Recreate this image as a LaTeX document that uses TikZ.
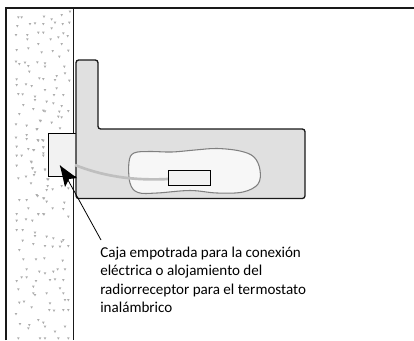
\documentclass[tikz,border=0pt]{standalone}
\usepackage{fontspec}
\setmainfont{Carlito}
\tikzset{
  px/.style={x=0.75pt,y=-0.75pt},
  outline/.style={draw=black!90,line width=0.85pt},
  speck/.style={fill=black!32,draw=none},
  lead/.style={draw=black,line width=0.6pt}
}
\newcommand{\speckat}[2]{\fill[speck] (#1-1.3,#2-1) -- (#1+1.3,#2-1) -- (#1,#2+1.4) -- cycle;}
\begin{document}
\begin{tikzpicture}[px]
\useasboundingbox (0,0) rectangle (414,340);
% wall
\draw[outline] (6,340) -- (6,8) -- (414,8);
\draw[outline] (73.5,8) -- (73.5,340);
% specks, top part
\foreach \a/\b in {65/52,55/52,52/78,90/72,105/70,130/72,132/50,155/58,165/68,185/45,210/35,188/72,208/68,155/85,115/98,130/98,48/105,82/105,82/118,115/132,152/118,175/112,190/100,203/108,50/150,85/145,125/157,158/153,178/170,205/152,185/132,48/185,58/192,75/188,85/198,112/187,135/190,135/200,193/200,88/215,195/220,50/238,118/235,130/237,170/228,165/240,208/242,50/255,78/253,95/258,170/265,55/282,68/283,105/290,105/300,135/270,162/285,190/285,140/305,160/310,185/318,70/315,100/327,130/332,178/335,205/333,58/342}
  {\speckat{\a/3}{\b/3}}
% specks, bottom part
\foreach \a/\b in {50/30,68/30,105/38,105/48,140/50,160/55,190/60,68/62,185/65,100/72,135/78,158/80,180/80,205/78,58/90,70/118,108/118,133/115,188/122,80/148,118/155,135/160,160/155,173/148,195/148,50/183,65/172,80/172,108/183,150/180,165/178,190/180,100/200,55/208,180/205,100/220,105/225,140/220,190/220,58/248,72/245,95/262,150/250,195/240,48/282,148/270,162/272,190/270,205/270,205/240,115/300,130/308,60/312,88/315,195/320,85/325,135/320,165/335,55/355,120/355,135/355,175/355,205/355}
  {\speckat{\a/3}{220+\b/3}}
% specks, middle right
\foreach \a/\b in {45/4,85/20,95/22,30/32,65/38,90/55,20/58,25/92,40/92,40/112,12/120,40/130,3/155,8/175,12/195,45/180,55/208,68/238,50/240,95/228,115/235,20/255,42/265,50/275,103/278,68/295,100/297,25/313,42/313,115/320}
  {\speckat{30+\a/3}{110+\b/3}}
% specks, middle left
\foreach \a/\b in {48/28,80/32,112/42,122/18,48/68,80/60,80/72,113/75,127/75,50/95,85/102,100/105,130/97,50/122,65/122,130/122,50/152,95/142,97/160,105/172,135/163,55/190,78/185,93/205,142/193,143/213,58/255,80/255,85/280,113/243,130/250,50/297,115/297,130/297,50/317,78/313,97/317}
  {\speckat{\a/3}{115+\b/3}}
% wall box
\node[draw=black,line width=0.85pt,fill=black!5,minimum width=26pt,minimum height=32pt,inner sep=0pt,anchor=north west] (box) at (48,133) {};
% L-shaped body
\draw[draw=black!90,line width=1pt,fill=black!12,rounded corners=2pt]
  (76,60) -- (98,60) -- (98,129) -- (305,129) -- (305,198.5) -- (76,198.5) -- cycle;
% patch
\draw[draw=black!50,line width=0.8pt,fill=black!3]
  plot[smooth cycle,tension=0.6] coordinates {(129,162) (134,153) (150,151.5) (172,152) (195,150) (217,148.5) (240,151) (254,157) (260,170) (258,184) (243,192) (217,193) (190,190.5) (157,193) (138,192.5) (130,183)};
% cable
\draw[draw=black!25,line width=2pt] (75,165) .. controls (100,175) and (130,181) .. (168,179);
% receiver
\node[draw=black,line width=0.85pt,fill=black!5,minimum width=32pt,minimum height=11.5pt,inner sep=0pt,anchor=north west] (rx) at (167.5,170) {};
% label
\node[anchor=north west,align=left,font=\fontsize{11.3pt}{13.6pt}\selectfont,inner sep=0pt] (lab) at (100,247)
 {Caja empotrada para la conexión\\eléctrica o alojamiento del\\radiorreceptor para el termostato\\inalámbrico};
\coordinate (tip) at (60,165.5);
\coordinate (foot) at (101,240);
\draw[lead] (foot) -- (tip);
\fill[black] (tip) -- (77,178) -- (69,179) -- (65,187) -- cycle;
\end{tikzpicture}
\end{document}
